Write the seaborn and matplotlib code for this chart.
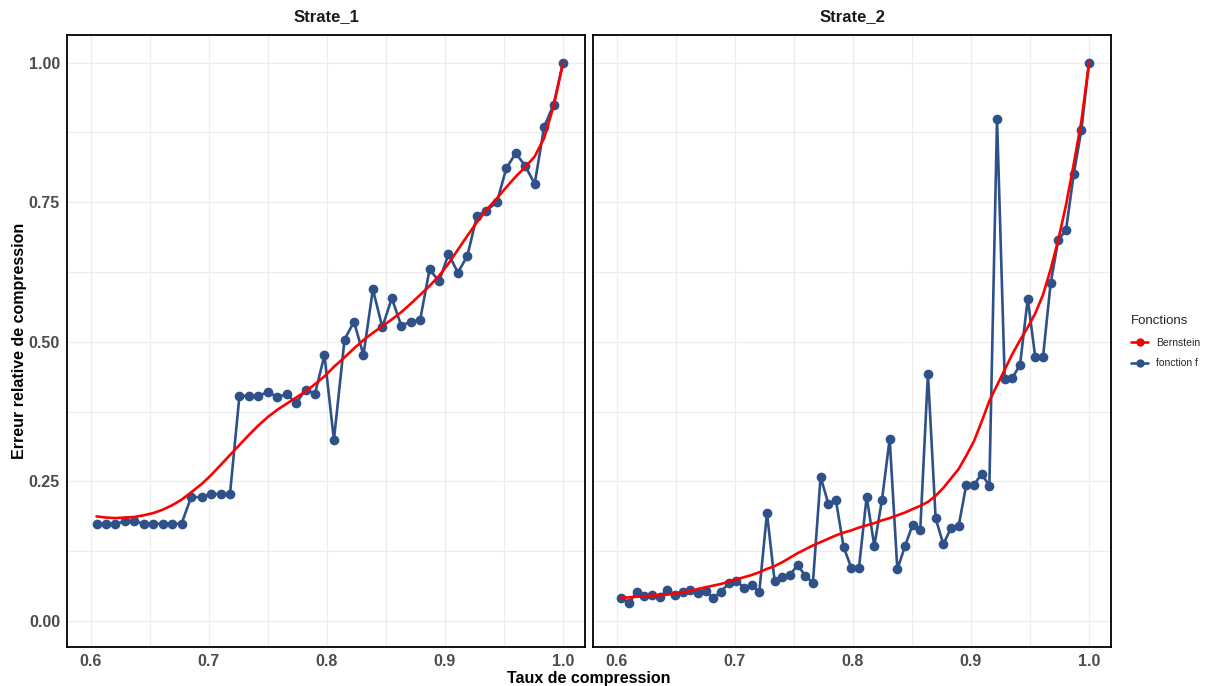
import numpy as np
import pandas as pd
import matplotlib
matplotlib.use("Agg")
import matplotlib.pyplot as plt
import seaborn as sns
from matplotlib.lines import Line2D

# ---------------- data ----------------
panels = ["Strate_1", "Strate_2"]
series_names = ["Bernstein", "fonction f"]

x_s1 = [0.605, 0.613, 0.621, 0.629, 0.637, 0.645, 0.653, 0.661, 0.669, 0.677,
        0.685, 0.694, 0.702, 0.710, 0.718, 0.726, 0.734, 0.742, 0.750, 0.758,
        0.766, 0.774, 0.782, 0.790, 0.798, 0.806, 0.815, 0.823, 0.831, 0.839,
        0.847, 0.855, 0.863, 0.871, 0.879, 0.887, 0.895, 0.903, 0.911, 0.919,
        0.927, 0.935, 0.944, 0.952, 0.960, 0.968, 0.976, 0.984, 0.992, 1.000]

f_s1 = [0.174, 0.174, 0.174, 0.178, 0.178, 0.174, 0.174, 0.174, 0.174, 0.174,
        0.221, 0.222, 0.227, 0.227, 0.227, 0.403, 0.403, 0.403, 0.410, 0.401,
        0.406, 0.390, 0.414, 0.407, 0.476, 0.324, 0.504, 0.536, 0.476, 0.594,
        0.526, 0.578, 0.529, 0.536, 0.539, 0.630, 0.608, 0.657, 0.624, 0.654,
        0.725, 0.735, 0.750, 0.811, 0.838, 0.815, 0.783, 0.885, 0.925, 1.000]

bern_s1 = [0.187, 0.185, 0.184, 0.185, 0.186, 0.189, 0.193, 0.199, 0.207, 0.217,
           0.230, 0.245, 0.261, 0.279, 0.297, 0.315, 0.333, 0.350, 0.365, 0.378,
           0.389, 0.400, 0.411, 0.424, 0.438, 0.455, 0.472, 0.488, 0.503, 0.516,
           0.528, 0.540, 0.553, 0.568, 0.584, 0.600, 0.618, 0.640, 0.665, 0.690,
           0.714, 0.736, 0.757, 0.777, 0.796, 0.813, 0.832, 0.865, 0.922, 1.000]

x_s2 = [0.6039, 0.6104, 0.6169, 0.6234, 0.6299, 0.6364, 0.6429, 0.6494, 0.6558, 0.6623,
        0.6688, 0.6753, 0.6818, 0.6883, 0.6948, 0.7013, 0.7078, 0.7143, 0.7208, 0.7273,
        0.7338, 0.7403, 0.7468, 0.7532, 0.7597, 0.7662, 0.7727, 0.7792, 0.7857, 0.7922,
        0.7987, 0.8052, 0.8117, 0.8182, 0.8247, 0.8312, 0.8377, 0.8442, 0.8506, 0.8571,
        0.8636, 0.8701, 0.8766, 0.8831, 0.8896, 0.8961, 0.9026, 0.9091, 0.9156, 0.9221,
        0.9286, 0.9351, 0.9416, 0.9481, 0.9545, 0.9610, 0.9675, 0.9740, 0.9805, 0.9870,
        0.9935, 1.0000]

f_s2 = [0.041, 0.032, 0.051, 0.044, 0.046, 0.043, 0.055, 0.047, 0.052, 0.056,
        0.049, 0.053, 0.041, 0.052, 0.067, 0.072, 0.059, 0.064, 0.052, 0.193,
        0.071, 0.078, 0.082, 0.100, 0.081, 0.068, 0.258, 0.210, 0.216, 0.132,
        0.095, 0.095, 0.222, 0.134, 0.217, 0.326, 0.092, 0.134, 0.172, 0.163,
        0.443, 0.184, 0.137, 0.166, 0.170, 0.244, 0.244, 0.263, 0.242, 0.900,
        0.433, 0.435, 0.459, 0.577, 0.472, 0.472, 0.605, 0.683, 0.700, 0.800,
        0.879, 1.000]

bern_s2 = [0.041, 0.042, 0.043, 0.044, 0.045, 0.046, 0.047, 0.049, 0.051, 0.053,
           0.057, 0.060, 0.063, 0.066, 0.070, 0.074, 0.078, 0.082, 0.087, 0.093,
           0.098, 0.105, 0.113, 0.121, 0.128, 0.135, 0.141, 0.147, 0.153, 0.158,
           0.162, 0.167, 0.171, 0.175, 0.180, 0.184, 0.189, 0.194, 0.200, 0.206,
           0.213, 0.224, 0.238, 0.255, 0.272, 0.296, 0.322, 0.357, 0.394, 0.422,
           0.450, 0.478, 0.503, 0.526, 0.551, 0.584, 0.630, 0.683, 0.745, 0.818,
           0.895, 1.000]

x_ticks = [0.6, 0.7, 0.8, 0.9, 1.0]
x_tick_labels = ["0.6", "0.7", "0.8", "0.9", "1.0"]
y_ticks = [0.0, 0.25, 0.5, 0.75, 1.0]
y_tick_labels = ["0.00", "0.25", "0.50", "0.75", "1.00"]

# ---------------- style ----------------
sns.set_theme(style="white")
plt.rcParams['font.family'] = ['Liberation Sans', 'DejaVu Sans']

BLUE = "#2F5189"
RED = "#FF0000"
TICK_COLOR = "#4D4D4D"
GRID = "#EDEDED"

W, H = 1206, 686
fig = plt.figure(figsize=(W / 100, H / 100), dpi=100)

top_px, bot_px = 35, 647
boxes = [(67, 585), (593, 1111)]
data = [(x_s1, f_s1, bern_s1), (x_s2, f_s2, bern_s2)]

axes = []
for i, ((l, r), (xs, fs, bs)) in enumerate(zip(boxes, data)):
    ax = fig.add_axes([l / W, 1 - bot_px / H, (r - l) / W, (bot_px - top_px) / H])
    axes.append(ax)
    df = pd.DataFrame({"x": xs, "f": fs, "b": bs})
    sns.lineplot(data=df, x="x", y="f", color=BLUE, linewidth=1.9, marker="o",
                 markersize=7, markeredgewidth=0, sort=False, ax=ax, zorder=3)
    sns.lineplot(data=df, x="x", y="b", color=RED, linewidth=1.9, sort=False,
                 ax=ax, zorder=4)
    ax.set_xlim(0.58, 1.0186)
    ax.set_ylim(-0.047, 1.0497)
    ax.set_xticks(x_ticks)
    ax.set_xticklabels(x_tick_labels)
    ax.set_xticks([0.65, 0.75, 0.85, 0.95], minor=True)
    ax.set_yticks(y_ticks)
    ax.set_yticks([0.125, 0.375, 0.625, 0.875], minor=True)
    if i == 0:
        ax.set_yticklabels(y_tick_labels)
    else:
        ax.set_yticklabels([])
    ax.grid(which="major", color=GRID, linewidth=0.9)
    ax.grid(which="minor", color=GRID, linewidth=0.9)
    ax.set_axisbelow(True)
    ax.tick_params(axis="both", which="both", length=0, labelsize=11.5,
                   labelcolor=TICK_COLOR, pad=5)
    for t in ax.get_xticklabels() + ax.get_yticklabels():
        t.set_fontweight("bold")
    for s in ax.spines.values():
        s.set_visible(True)
        s.set_color("black")
        s.set_linewidth(1.3)
    ax.set_xlabel("")
    ax.set_ylabel("")
    ax.set_title(panels[i], fontsize=12, fontweight="bold", color="#1A1A1A", pad=10)

fig.text(589 / W, 1 - 678 / H, "Taux de compression", ha="center", va="center",
         fontsize=11.5, fontweight="bold", color="black")
fig.text(20 / W, 1 - 341 / H, "Erreur relative de compression", ha="center",
         va="center", rotation=90, fontsize=11.5, fontweight="bold", color="black")

handles = [
    Line2D([0], [0], color=RED, linewidth=1.9, marker="o", markersize=6, markeredgewidth=0),
    Line2D([0], [0], color=BLUE, linewidth=1.9, marker="o", markersize=6, markeredgewidth=0),
]
leg = fig.legend(handles, series_names, title="Fonctions", loc="upper left",
                 bbox_to_anchor=(1122 / W, 1 - 306 / H), frameon=False,
                 fontsize=7.5, title_fontsize=9.5, handlelength=1.6,
                 handletextpad=0.8, labelspacing=1.0, alignment="left")

fig.savefig("out.png", dpi=100, facecolor="white")
